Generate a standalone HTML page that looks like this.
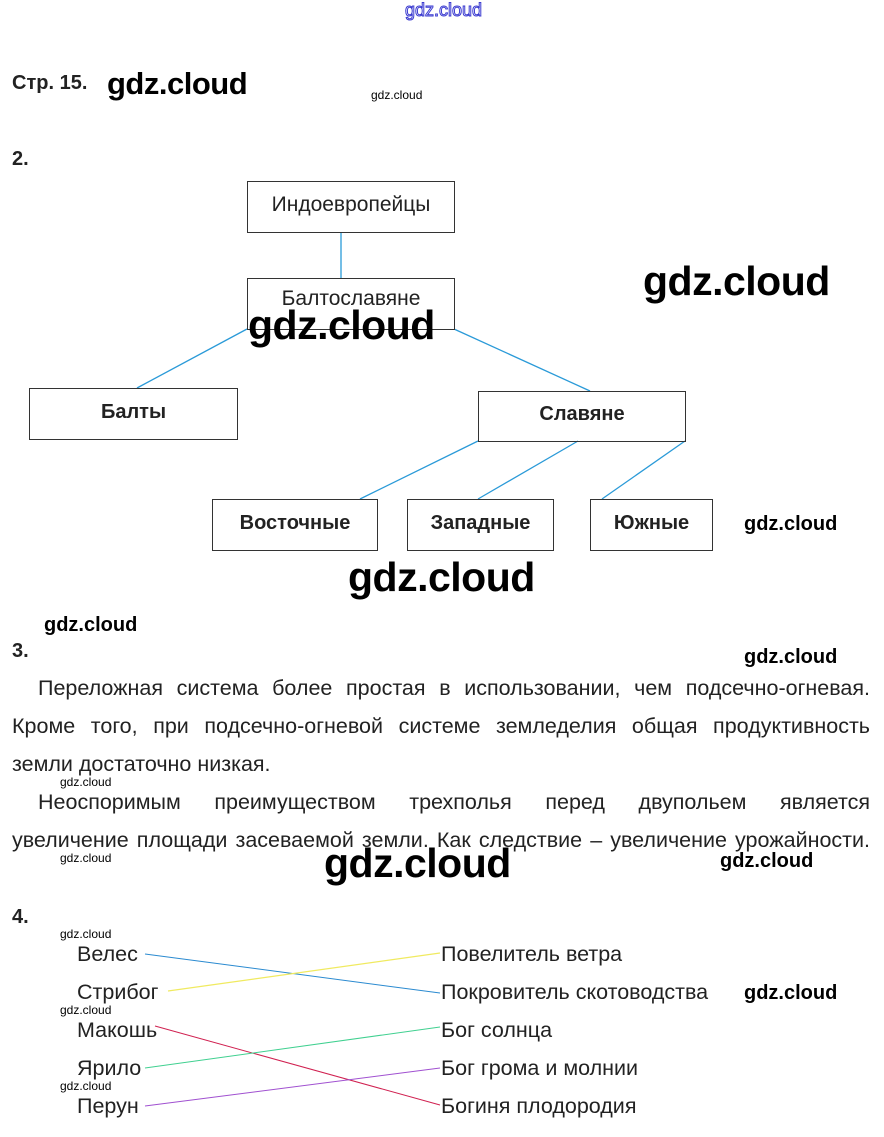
<!DOCTYPE html>
<html><head><meta charset="utf-8"><style>
body{margin:0;width:884px;height:1137px;background:#fff;position:relative;font-family:"Liberation Sans",sans-serif;color:#222;overflow:hidden}
.a{position:absolute;white-space:nowrap}
.box{position:absolute;border:1px solid #333;box-sizing:border-box;display:flex;align-items:center;justify-content:center;font-size:21px;padding-bottom:4px}
.b{font-weight:bold}
.box.b{font-size:20px}
.wm{position:absolute;white-space:nowrap;color:#000;font-family:"Liberation Sans",sans-serif}
.big{font-size:41px;font-weight:bold;letter-spacing:-0.5px}
.med{font-size:20px;font-weight:bold}
.sm{font-size:12px}
.p{position:absolute;left:12px;width:858px;font-size:21.5px;text-align:justify;text-align-last:justify;white-space:nowrap}
.m{font-size:21.5px}
</style></head><body>
<div class="a" style="left:405px;top:0px;font-size:18px;color:#fff;-webkit-text-stroke:1px #3a3ad0">gdz.cloud</div>
<div class="a b" style="left:12px;top:72px;font-size:20px">Стр. 15.</div>
<div class="wm" style="left:107px;top:66px;font-size:31px;font-weight:bold;letter-spacing:-0.5px">gdz.cloud</div>
<div class="wm sm" style="left:371px;top:88px">gdz.cloud</div>
<div class="a b" style="left:12px;top:148px;font-size:20px">2.</div>

<svg style="position:absolute;left:0;top:0" width="884" height="1137">
<g stroke="#2a9ad8" stroke-width="1.3">
<line x1="341" y1="232" x2="341" y2="278"/>
<line x1="247" y1="329" x2="137" y2="388"/>
<line x1="454" y1="329" x2="590" y2="391"/>
<line x1="478" y1="441" x2="360" y2="499"/>
<line x1="578" y1="441" x2="478" y2="499"/>
<line x1="685" y1="441" x2="602" y2="499"/>
</g>
<line x1="145" y1="954" x2="440" y2="993" stroke="#2a8ad0" stroke-width="1"/>
<line x1="168" y1="991" x2="440" y2="953" stroke="#f0ea60" stroke-width="1.3"/>
<line x1="155" y1="1026" x2="440" y2="1105" stroke="#d02050" stroke-width="1"/>
<line x1="145" y1="1068" x2="440" y2="1027" stroke="#40d090" stroke-width="1"/>
<line x1="145" y1="1106" x2="440" y2="1068" stroke="#a050d0" stroke-width="1"/>
</svg>

<div class="box" style="left:247px;top:181px;width:208px;height:52px">Индоевропейцы</div>
<div class="box" style="left:247px;top:278px;width:208px;height:52px;align-items:flex-start;padding-top:8px">Балтославяне</div>
<div class="box b" style="left:29px;top:388px;width:209px;height:52px">Балты</div>
<div class="box b" style="left:478px;top:391px;width:208px;height:51px">Славяне</div>
<div class="box b" style="left:212px;top:499px;width:166px;height:52px">Восточные</div>
<div class="box b" style="left:407px;top:499px;width:147px;height:52px">Западные</div>
<div class="box b" style="left:590px;top:499px;width:123px;height:52px">Южные</div>

<div class="wm big" style="left:643px;top:258px">gdz.cloud</div>
<div class="wm big" style="left:248px;top:302px">gdz.cloud</div>
<div class="wm med" style="left:744px;top:513px">gdz.cloud</div>
<div class="wm big" style="left:348px;top:554px">gdz.cloud</div>
<div class="wm med" style="left:44px;top:614px">gdz.cloud</div>
<div class="a b" style="left:12px;top:640px;font-size:20px">3.</div>
<div class="wm med" style="left:744px;top:646px">gdz.cloud</div>

<div class="p" style="top:676px;text-indent:26px">Переложная система более простая в использовании, чем подсечно-огневая.</div>
<div class="p" style="top:714px">Кроме того, при подсечно-огневой системе земледелия общая продуктивность</div>
<div class="a" style="left:12px;top:752px;font-size:21.5px">земли достаточно низкая.</div>
<div class="wm sm" style="left:60px;top:775px">gdz.cloud</div>
<div class="p" style="top:790px;left:38px;width:832px">Неоспоримым преимуществом трехполья перед двупольем является</div>
<div class="p" style="top:828px">увеличение площади засеваемой земли. Как следствие – увеличение урожайности.</div>
<div class="wm sm" style="left:60px;top:851px">gdz.cloud</div>
<div class="wm big" style="left:324px;top:840px">gdz.cloud</div>
<div class="wm med" style="left:720px;top:850px">gdz.cloud</div>

<div class="a b" style="left:12px;top:906px;font-size:20px">4.</div>
<div class="wm sm" style="left:60px;top:927px">gdz.cloud</div>
<div class="a m" style="left:77px;top:942px">Велес</div>
<div class="a m" style="left:77px;top:980px">Стрибог</div>
<div class="wm sm" style="left:60px;top:1003px">gdz.cloud</div>
<div class="a m" style="left:77px;top:1018px">Макошь</div>
<div class="a m" style="left:77px;top:1056px">Ярило</div>
<div class="wm sm" style="left:60px;top:1079px">gdz.cloud</div>
<div class="a m" style="left:77px;top:1094px">Перун</div>
<div class="a m" style="left:441px;top:942px">Повелитель ветра</div>
<div class="a m" style="left:441px;top:980px">Покровитель скотоводства</div>
<div class="a m" style="left:441px;top:1018px">Бог солнца</div>
<div class="a m" style="left:441px;top:1056px">Бог грома и молнии</div>
<div class="a m" style="left:441px;top:1094px">Богиня плодородия</div>
<div class="wm med" style="left:744px;top:982px">gdz.cloud</div>
</body></html>
